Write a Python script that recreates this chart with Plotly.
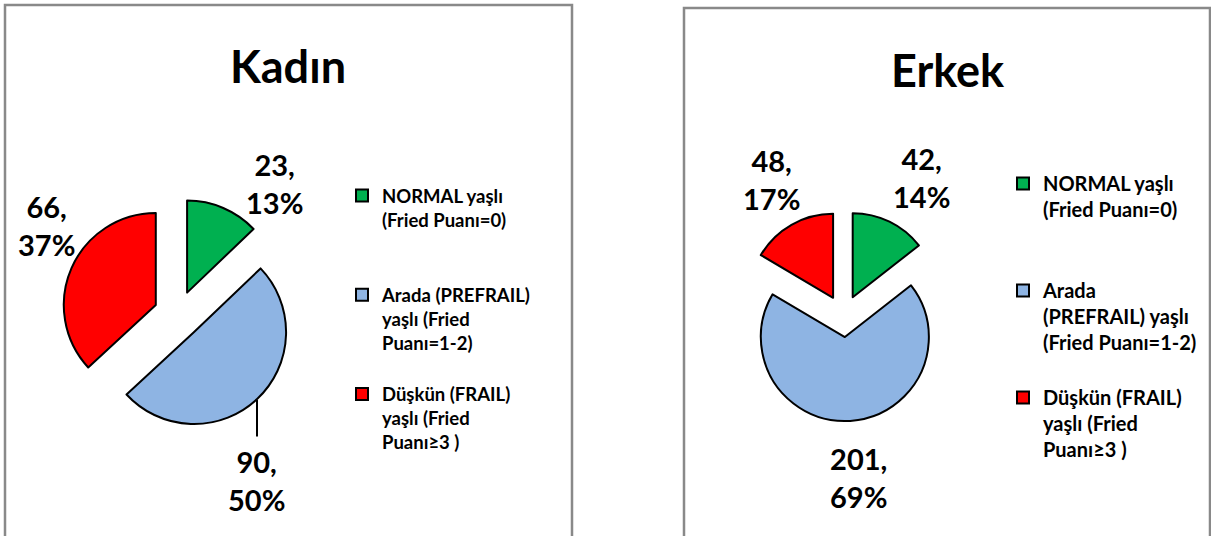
import plotly.graph_objects as go

W, H = 1211, 536

# ---------------- data ----------------
categories_kadin = [
    "NORMAL yaşlı<br>(Fried Puanı=0)",
    "Arada (PREFRAIL)<br>yaşlı (Fried<br>Puanı=1-2)",
    "Düşkün (FRAIL)<br>yaşlı (Fried<br>Puanı≥3 )",
]
categories_erkek = [
    "NORMAL yaşlı<br>(Fried Puanı=0)",
    "Arada<br>(PREFRAIL) yaşlı<br>(Fried Puanı=1-2)",
    "Düşkün (FRAIL)<br>yaşlı (Fried<br>Puanı≥3 )",
]
kadin_values = [23, 90, 66]
kadin_pct = ["13%", "50%", "37%"]
erkek_values = [42, 201, 48]
erkek_pct = ["14%", "69%", "17%"]
titles = ["Kadın", "Erkek"]

# ---------------- style ----------------
colors = ["#00B050", "#8EB4E3", "#FF0000"]
FONT = "Lato"


def px_x(x):
    return x / W


def px_y(y):
    return 1 - y / H


def pad_lines(label, n, tag=""):
    # empty trailing lines space the legend entries; tag keeps the two legends' labels distinct
    return label + "<br>\u00a0" * n + tag


def domain(cx, cy, r, pull):
    half = r * (1 + pull)
    return dict(x=[px_x(cx - half), px_x(cx + half)],
                y=[px_y(cy + half), px_y(cy - half)])


fig = go.Figure()

# Kadın pie
k_pull = 0.26
fig.add_trace(go.Pie(
    labels=[pad_lines(l, p) for l, p in zip(categories_kadin, [2, 1, 0])],
    values=kadin_values,
    sort=False, direction="clockwise", rotation=0,
    pull=[k_pull] * 3,
    marker=dict(colors=colors, line=dict(color="black", width=2)),
    textinfo="none", hoverinfo="label+value+percent",
    domain=domain(177.7, 314.6, 92, k_pull),
    legend="legend",
))

# Erkek pie
e_pull = 0.25
fig.add_trace(go.Pie(
    labels=[pad_lines(l, p, "\u200b") for l, p in zip(categories_erkek, [2, 1, 0])],
    values=erkek_values,
    sort=False, direction="clockwise", rotation=0,
    pull=[e_pull] * 3,
    marker=dict(colors=colors, line=dict(color="black", width=2)),
    textinfo="none", hoverinfo="label+value+percent",
    domain=domain(843.5, 316.1, 84, e_pull),
    legend="legend2",
))

# panel frames
shapes = [
    dict(type="rect", xref="paper", yref="paper",
         x0=px_x(5), x1=px_x(572), y0=px_y(545), y1=px_y(5),
         line=dict(color="#898989", width=2.5), fillcolor="rgba(0,0,0,0)", layer="below"),
    dict(type="rect", xref="paper", yref="paper",
         x0=px_x(684), x1=px_x(1210), y0=px_y(545), y1=px_y(8),
         line=dict(color="#898989", width=2.5), fillcolor="rgba(0,0,0,0)", layer="below"),
]

annotations = []
# titles
for t, (tx, ty) in zip(titles, [(288, 66), (948, 70)]):
    annotations.append(dict(text=t, x=px_x(tx), y=px_y(ty), xref="paper", yref="paper",
                            showarrow=False, xanchor="center", yanchor="middle",
                            font=dict(family=FONT, size=45, color="black", weight="bold")))

# data labels
lab_font = dict(family=FONT, size=29, color="black", weight="bold")
kadin_pos = [(274, 183), (256, 480), (46, 225)]
for v, p, (lx, ly) in zip(kadin_values, kadin_pct, kadin_pos):
    annotations.append(dict(text=f"{v},<br>{p}", x=px_x(lx), y=px_y(ly), xref="paper", yref="paper",
                            showarrow=False, xanchor="center", yanchor="middle", font=lab_font))
erkek_pos = [(921, 177), (858, 477), (772, 180)]
for v, p, (lx, ly) in zip(erkek_values, erkek_pct, erkek_pos):
    annotations.append(dict(text=f"{v},<br>{p}", x=px_x(lx), y=px_y(ly), xref="paper", yref="paper",
                            showarrow=False, xanchor="center", yanchor="middle", font=lab_font))

# leader line for the Kadın blue slice label
annotations.append(dict(text="", x=px_x(257), y=px_y(400), xref="paper", yref="paper",
                        showarrow=True, arrowhead=0, arrowwidth=2, arrowcolor="black",
                        ax=0, ay=38, standoff=0, startstandoff=0))

fig.update_layout(
    width=W, height=H,
    margin=dict(l=0, r=0, t=0, b=0),
    paper_bgcolor="white", plot_bgcolor="white",
    shapes=shapes, annotations=annotations,
    legend=dict(x=px_x(342), y=px_y(177), xanchor="left", yanchor="top",
                valign="top", bgcolor="rgba(0,0,0,0)",
                font=dict(family=FONT, size=18.5, color="black", weight="bold")),
    legend2=dict(x=px_x(1003), y=px_y(164), xanchor="left", yanchor="top",
                 valign="top", bgcolor="rgba(0,0,0,0)",
                 font=dict(family=FONT, size=20, color="black", weight="bold")),
)

fig.write_html("out.html", config={"displayModeBar": False},
               post_script="document.body.style.margin='0';")
